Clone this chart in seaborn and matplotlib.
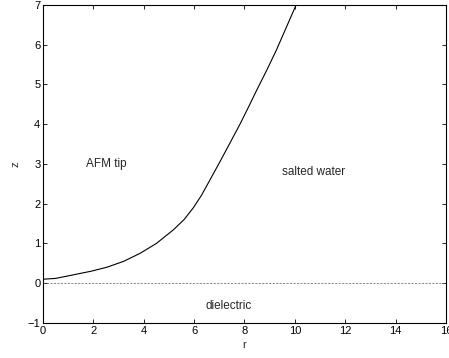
import numpy as np
import pandas as pd
import matplotlib
matplotlib.use("Agg")
import matplotlib.pyplot as plt
import seaborn as sns

# tip profile
r_tip = [0.0, 0.5, 1.2, 1.9, 2.53, 3.2, 3.85, 4.5, 5.17, 5.6, 5.97, 6.3,
         6.63, 7.02, 7.4, 7.82, 8.15, 8.48, 8.9, 9.27, 9.65, 10.05]
z_tip = [0.10, 0.12, 0.21, 0.30, 0.40, 0.55, 0.75, 1.0, 1.34, 1.6, 1.9, 2.22,
         2.6, 3.05, 3.5, 4.0, 4.42, 4.85, 5.38, 5.87, 6.42, 7.0]

# interface between water and dielectric
r_base = [0, 16]
z_base = [0, 0]

labels = ["AFM tip", "salted water", "dielectric"]
label_r = [1.7, 9.5, 6.45]
label_z = [3.0, 2.8, -0.57]

sns.set_style("ticks")
plt.rcParams["font.family"] = ["Liberation Sans", "DejaVu Sans"]

fig = plt.figure(figsize=(4.49, 3.58), dpi=100)
ax = fig.add_axes([0.096, 0.098, 0.897, 0.888])

tip = pd.DataFrame({"r": r_tip, "z": z_tip})
base = pd.DataFrame({"r": r_base, "z": z_base})
sns.lineplot(data=tip, x="r", y="z", color="black", linewidth=0.8, ax=ax,
             sort=False, estimator=None)
sns.lineplot(data=base, x="r", y="z", color="#555555", linewidth=0.5,
             linestyle=(0, (3, 2)), ax=ax, estimator=None)

for t, x, y in zip(labels, label_r, label_z):
    ax.text(x, y, t, fontsize=8.5, va="center", ha="left")

ax.set_xlim(0, 16)
ax.set_ylim(-1, 7)
ax.set_xticks(range(0, 17, 2))
ax.set_yticks(range(-1, 8))
ax.set_yticklabels(["\u22121"] + [str(v) for v in range(0, 8)])
ax.tick_params(direction="in", top=True, right=True, length=3, width=0.6,
               labelsize=8, pad=2, colors="black")
for s in ax.spines.values():
    s.set_linewidth(0.8)
    s.set_color("black")
ax.set_xlabel("r", fontsize=8, labelpad=3)
ax.set_ylabel("z", fontsize=8, labelpad=5)

fig.savefig("out.png", dpi=100)
